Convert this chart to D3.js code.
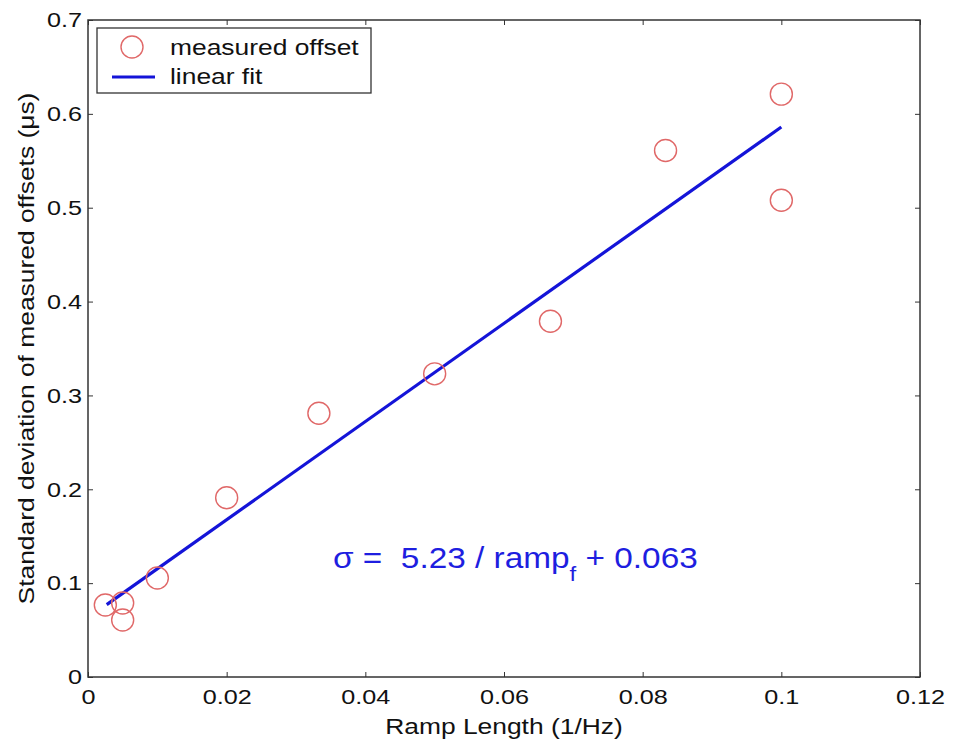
<!DOCTYPE html>
<html><head><meta charset="utf-8">
<script src="https://cdn.jsdelivr.net/npm/d3@7"></script>
<style>body{margin:0;background:#fff}svg{display:block}text{font-family:"Liberation Sans",Arial,sans-serif}</style>
</head><body><svg id="c" width="956" height="741"></svg>
<script>
const rampLength = [0.0025, 0.005, 0.005, 0.01, 0.02, 0.0333, 0.05, 0.0667, 0.0833, 0.1, 0.1];
const measuredOffset = [0.0767, 0.0788, 0.0607, 0.1055, 0.191, 0.281, 0.323, 0.379, 0.561, 0.621, 0.508];
const fitX = [0.0027, 0.1];
const fitY = [0.0771, 0.586];
const xTicks = [0, 0.02, 0.04, 0.06, 0.08, 0.1, 0.12];
const xTickLabels = ["0", "0.02", "0.04", "0.06", "0.08", "0.1", "0.12"];
const yTicks = [0, 0.1, 0.2, 0.3, 0.4, 0.5, 0.6, 0.7];
const yTickLabels = ["0", "0.1", "0.2", "0.3", "0.4", "0.5", "0.6", "0.7"];
const legendLabels = ["measured offset", "linear fit"];

const svg = d3.select("#c");
const L = 88, R = 920, T = 20, B = 677;
const x = d3.scaleLinear().domain([0, 0.12]).range([L, R]);
const y = d3.scaleLinear().domain([0, 0.7]).range([B, T]);
const axisCol = "#333";
const SX = 1.2; // horizontal stretch of the lettering in the reference

// frame
svg.append("rect").attr("x", L).attr("y", T).attr("width", R - L).attr("height", B - T)
  .attr("fill", "none").attr("stroke", axisCol).attr("stroke-width", 1.5);

function styleAxis(g) {
  g.select(".domain").remove();
  g.selectAll(".tick line").attr("stroke", axisCol).attr("stroke-width", 1);
  g.selectAll(".tick text").attr("fill", "#111").style("font-size", "21px").style("font-family", '"Liberation Sans",Arial,sans-serif');
}
// bottom
const gb = svg.append("g").attr("transform", `translate(0,${B})`)
  .call(d3.axisBottom(x).tickValues(xTicks).tickFormat((d, i) => xTickLabels[i]).tickSizeInner(-5).tickSizeOuter(0).tickPadding(12))
  .call(styleAxis);
gb.selectAll(".tick text").attr("transform", `scale(${SX},1)`);
// top
svg.append("g").attr("transform", `translate(0,${T})`)
  .call(d3.axisTop(x).tickValues(xTicks).tickFormat("").tickSizeInner(-5).tickSizeOuter(0))
  .call(styleAxis);
// left
const gl = svg.append("g").attr("transform", `translate(${L},0)`)
  .call(d3.axisLeft(y).tickValues(yTicks).tickFormat((d, i) => yTickLabels[i]).tickSizeInner(-5).tickSizeOuter(0).tickPadding(6))
  .call(styleAxis);
gl.selectAll(".tick text").attr("x", 0).attr("transform", `translate(-6,0) scale(${SX},1)`);
// right
svg.append("g").attr("transform", `translate(${R},0)`)
  .call(d3.axisRight(y).tickValues(yTicks).tickFormat("").tickSizeInner(-5).tickSizeOuter(0))
  .call(styleAxis);

// fit line
const line = d3.line().x(d => x(d[0])).y(d => y(d[1]));
svg.append("path").datum(fitX.map((v, i) => [v, fitY[i]]))
  .attr("d", line).attr("fill", "none").attr("stroke", "#1414d8").attr("stroke-width", 3.2);

// points
svg.append("g").selectAll("circle").data(rampLength.map((v, i) => [v, measuredOffset[i]]))
  .join("circle").attr("cx", d => x(d[0])).attr("cy", d => y(d[1])).attr("r", 11)
  .attr("fill", "none").attr("stroke", "#e06868").attr("stroke-width", 1.4);

// legend
const lg = svg.append("g");
lg.append("rect").attr("x", 97).attr("y", 28).attr("width", 274).attr("height", 65)
  .attr("fill", "#fff").attr("stroke", axisCol).attr("stroke-width", 1.3);
lg.append("circle").attr("cx", 132).attr("cy", 47).attr("r", 11)
  .attr("fill", "none").attr("stroke", "#e06868").attr("stroke-width", 1.4);
lg.append("line").attr("x1", 112).attr("x2", 155).attr("y1", 77).attr("y2", 77)
  .attr("stroke", "#1414d8").attr("stroke-width", 3.2);
lg.append("text").attr("transform", `translate(170,55) scale(${SX},1)`).attr("fill", "#111").style("font-size", "22px").text(legendLabels[0]);
lg.append("text").attr("transform", `translate(170,84) scale(${SX},1)`).attr("fill", "#111").style("font-size", "22px").text(legendLabels[1]);

// annotation
const ann = svg.append("text").attr("transform", "translate(333,568) scale(1.15,1)")
  .attr("fill", "#1e1ee0").style("font-size", "29px").style("white-space", "pre");
ann.append("tspan").text("σ =  5.23 / ramp");
ann.append("tspan").attr("dy", 13).style("font-size", "21px").text("f");
ann.append("tspan").attr("dy", -13).text(" + 0.063");

// axis titles
svg.append("text").attr("transform", `translate(${(L + R) / 2},734) scale(${SX},1)`).attr("text-anchor", "middle")
  .attr("fill", "#111").style("font-size", "22px").text("Ramp Length (1/Hz)");
svg.append("text").attr("transform", `translate(34,${(T + B) / 2}) rotate(-90) scale(${SX},1)`).attr("text-anchor", "middle")
  .attr("fill", "#111").style("font-size", "22px").text("Standard deviation of measured offsets (μs)");
</script></body></html>
